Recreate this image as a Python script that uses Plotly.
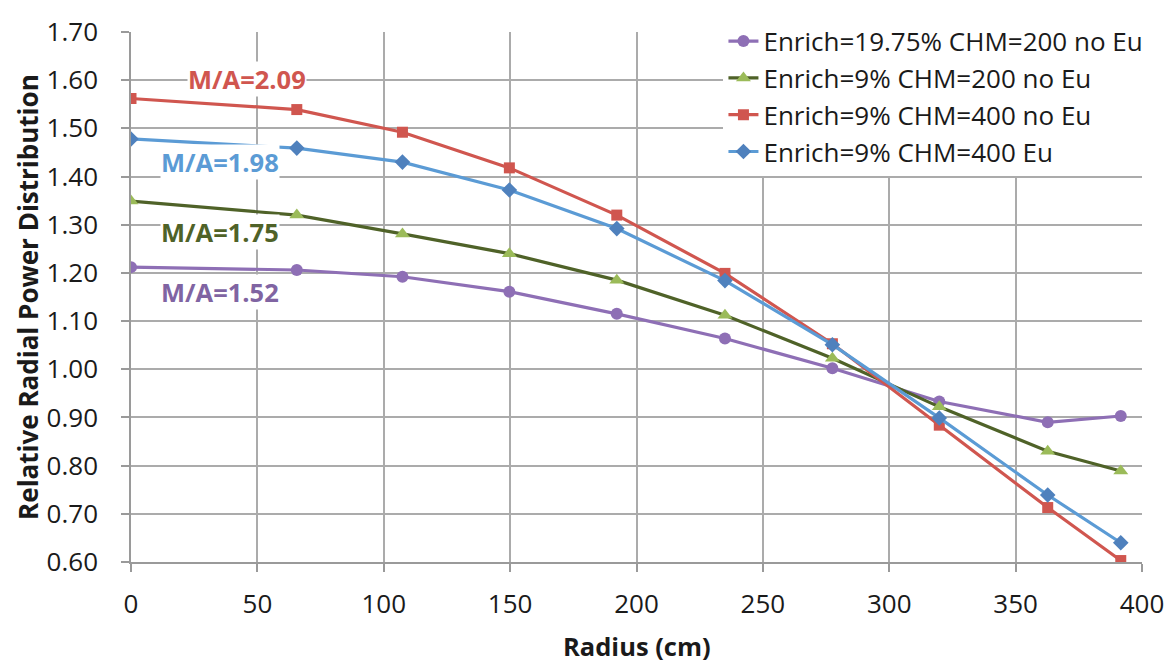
import plotly.graph_objects as go

radius = [0, 65.6, 107.4, 149.7, 192.2, 235.0, 277.5, 319.8, 362.7, 391.6]

series_names = [
    "Enrich=19.75% CHM=200 no Eu",
    "Enrich=9% CHM=200 no Eu",
    "Enrich=9% CHM=400 no Eu",
    "Enrich=9% CHM=400 Eu",
]
purple_vals = [1.212, 1.206, 1.192, 1.161, 1.115, 1.064, 1.002, 0.933, 0.890, 0.903]
green_vals = [1.349, 1.320, 1.281, 1.240, 1.185, 1.112, 1.023, 0.922, 0.830, 0.789]
red_vals = [1.562, 1.539, 1.492, 1.418, 1.320, 1.199, 1.053, 0.884, 0.713, 0.603]
blue_vals = [1.478, 1.459, 1.430, 1.372, 1.292, 1.184, 1.051, 0.899, 0.739, 0.640]

ma_labels = ["M/A=2.09", "M/A=1.98", "M/A=1.75", "M/A=1.52"]
ma_x = [45.8, 35.2, 35.2, 35.2]
ma_y = [1.602, 1.430, 1.285, 1.160]

x_title = "Radius (cm)"
y_title = "Relative Radial Power Distribution"
x_ticks = [0, 50, 100, 150, 200, 250, 300, 350, 400]
y_ticks = [0.60, 0.70, 0.80, 0.90, 1.00, 1.10, 1.20, 1.30, 1.40, 1.50, 1.60, 1.70]

FONT = "'Open Sans', 'Noto Sans', sans-serif"
TXT = "#1A1A1A"
styles = [
    dict(line="#8E6FB5", marker="#8E6FB5", symbol="circle", size=12),
    dict(line="#4F6228", marker="#9BBB59", symbol="triangle-up", size=13),
    dict(line="#D0564F", marker="#D0564F", symbol="square", size=11),
    dict(line="#5B9BD5", marker="#4F81BD", symbol="diamond", size=12),
]
ma_colors = ["#D0564F", "#5B9BD5", "#4F6228", "#8064A2"]

fig = go.Figure()
for i, (name, vals) in enumerate(zip(series_names, [purple_vals, green_vals, red_vals, blue_vals])):
    s = styles[i]
    fig.add_trace(go.Scatter(
        x=radius, y=vals, mode="lines+markers", name=name,
        legendgroup=f"g{i}",
        line=dict(color=s["line"], width=3.2),
        marker=dict(color=s["marker"], symbol=s["symbol"], size=s["size"]),
    ))

for txt, xx, yy, c in zip(ma_labels, ma_x, ma_y, ma_colors):
    fig.add_annotation(x=xx, y=yy, text=f"<b>{txt}</b>", showarrow=False,
                       font=dict(family=FONT, size=25.5, color=c),
                       bgcolor="white", borderpad=0)

# axis titles placed as paper-anchored annotations for exact positioning
fig.add_annotation(xref="paper", yref="paper", x=0.5, y=-0.158, yanchor="middle",
                   text=f"<b>{x_title}</b>", showarrow=False, borderpad=0,
                   font=dict(family=FONT, size=25.5, color=TXT))
fig.add_annotation(xref="paper", yref="paper", x=-0.102, y=0.5, xanchor="center",
                   text=f"<b>{y_title}</b>", showarrow=False, textangle=-90, borderpad=0,
                   font=dict(family=FONT, size=26, color=TXT))

axis_common = dict(
    showgrid=True, gridcolor="#ABABAB", gridwidth=1.6,
    showline=True, linecolor="#9A9A9A", linewidth=1.6,
    ticks="outside", ticklen=8, tickcolor="#9A9A9A", tickwidth=1.6,
    tickfont=dict(family=FONT, size=26, color=TXT),
    zeroline=False, automargin=False, ticklabeloverflow="allow",
)

fig.update_xaxes(range=[0, 400], tickvals=x_ticks, ticktext=[str(v) for v in x_ticks],
                 ticklabelstandoff=10, **axis_common)
fig.update_yaxes(range=[0.60, 1.70], tickvals=y_ticks, ticktext=[f"{v:.2f}" for v in y_ticks],
                 ticklabelstandoff=18, **axis_common)

# page body has an 8px margin; figure is offset by (8, 8) in the screenshot
fig.update_layout(
    width=1166, height=659,
    margin=dict(l=123, r=32, t=10, b=105),
    plot_bgcolor="white", paper_bgcolor="white",
    font=dict(family=FONT),
    legend=dict(x=0.586, y=1.027, xanchor="left", yanchor="top",
                bgcolor="white", font=dict(family=FONT, size=26, color=TXT),
                tracegroupgap=0, traceorder="grouped"),
)

fig.write_html("out.html")
